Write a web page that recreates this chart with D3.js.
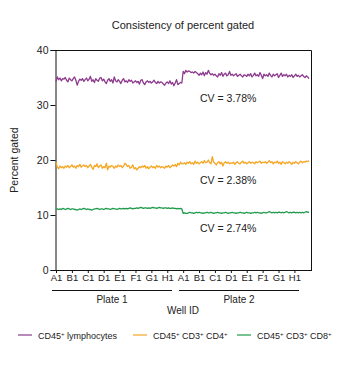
<!DOCTYPE html>
<html>
<head>
<meta charset="utf-8">
<script src="https://cdn.jsdelivr.net/npm/d3@7"></script>
<style>
  body { margin: 0; background: #fff; }
  text { font-family: "Liberation Sans", Arial, Helvetica, sans-serif; fill: #222; }
</style>
</head>
<body>
<svg id="chart" width="345" height="370"></svg>
<script>
// wells per plate: A1..H12, ticks at each row start
const rows = ["A1", "B1", "C1", "D1", "E1", "F1", "G1", "H1"];
const plates = ["Plate 1", "Plate 2"];
const yTicks = [0, 10, 20, 30, 40];

const lymphoP1 = [
  34.3, 35.1, 34.6, 34.9, 34.4, 34.8, 34.7, 35.0, 34.5, 34.2,
  34.9, 34.6, 34.4, 34.8, 35.1, 34.5, 33.6, 34.3, 34.7, 34.5,
  34.8, 34.3, 34.6, 34.9, 34.4, 34.7, 35.2, 34.3, 34.6, 34.1,
  34.8, 34.5, 34.3, 34.9, 35.0, 34.4, 34.7, 34.2, 33.9, 34.5,
  34.8, 34.3, 34.6, 34.0, 35.1, 34.4, 34.2, 34.6, 34.3, 33.9,
  34.5, 34.8, 34.2, 34.4, 34.1, 34.6, 34.3, 34.5, 34.0, 34.2,
  34.4, 34.1, 34.3, 33.8, 34.5, 34.6, 34.0, 33.7, 34.2, 34.4,
  34.1, 34.3, 34.0, 34.2, 34.5, 34.1, 33.9, 34.3, 34.0, 34.2,
  34.1, 33.8, 33.6, 34.0, 34.2, 33.9, 34.4, 33.8, 34.1, 33.5,
  34.0, 34.6, 33.7, 33.9, 34.1, 34.0
];
const lymphoP2 = [
  36.1, 35.7, 36.3, 36.0, 36.2, 36.1, 35.9, 36.0, 35.8, 36.1,
  35.9, 35.7, 35.4, 35.8, 35.5, 36.0, 35.3, 35.9, 35.6, 36.3,
  35.8, 35.5, 35.7, 35.4, 35.6, 35.3, 35.1, 35.7, 35.4, 35.9,
  35.2, 35.6, 35.8, 35.3, 35.5, 36.1, 35.4, 35.6, 35.3, 35.5,
  35.7, 35.2, 35.4, 35.6, 35.3, 35.1, 35.5, 35.4, 35.2, 35.6,
  35.3, 35.7, 35.1, 35.4, 35.8, 35.3, 35.5, 35.2, 35.9, 35.4,
  34.8, 35.6, 35.3, 35.5, 35.2, 35.8, 35.4, 35.1, 35.6, 35.3,
  35.5, 35.7, 35.0, 35.4, 35.8, 35.2, 35.5, 35.3, 35.6, 35.1,
  35.4, 35.2, 35.5, 35.0, 35.3, 35.6, 35.2, 35.4, 35.1, 35.3,
  35.5, 35.2, 35.0, 35.3, 35.1, 34.8
];
const cd4P1 = [
  19.6, 18.7, 18.4, 18.9, 18.6, 18.8, 18.5, 18.9, 18.7, 19.0,
  18.6, 18.8, 19.1, 18.7, 18.9, 18.5, 19.0, 18.8, 19.2, 18.7,
  18.9, 19.1, 18.8, 19.0, 18.6, 18.9, 19.2, 18.7, 18.3, 19.0,
  18.8, 19.3, 18.6, 18.9, 19.1, 18.5, 18.8, 18.6, 19.4, 18.2,
  18.9, 18.7, 19.0, 18.8, 18.5, 18.9, 18.7, 19.1, 18.8, 19.0,
  18.6, 18.9, 19.4, 19.2, 18.8, 19.0, 18.5, 18.7, 19.1, 18.4,
  18.6, 18.2, 18.5, 18.8, 18.6, 18.9, 18.7, 19.0, 18.5, 18.8,
  18.4, 18.7, 18.9, 18.6, 18.8, 18.5, 19.0, 18.7, 18.9, 18.6,
  18.8, 18.7, 18.5, 18.9, 18.7, 19.0, 18.6, 18.8, 19.1, 18.9,
  19.2, 18.8, 19.4, 19.1, 19.6, 19.3
];
const cd4P2 = [
  19.3, 19.5, 19.2, 19.6, 19.4, 19.7, 19.3, 19.5, 19.2, 19.8,
  19.4, 19.6, 19.3, 19.5, 19.7, 19.4, 19.9, 19.5, 19.6, 20.0,
  19.5, 19.3, 20.6, 19.6, 19.4, 19.1, 19.5, 19.7, 19.3, 19.6,
  18.9, 19.5, 19.7, 19.4, 19.6, 19.3, 19.5, 19.4, 19.6, 19.2,
  19.5, 19.7, 19.4, 19.3, 19.6, 19.8, 19.4, 19.6, 19.3, 19.5,
  19.7, 19.4, 19.6, 19.5, 19.3, 19.7, 19.5, 19.6, 19.8, 19.4,
  19.6, 19.5, 19.7, 19.4, 19.6, 19.9, 19.5, 19.7, 19.3, 19.6,
  19.5, 19.8, 19.4, 19.6, 19.2, 19.7, 19.5, 19.3, 19.6, 19.4,
  19.7, 19.5, 19.2, 19.6, 19.4, 19.7, 19.5, 19.3, 19.6, 19.8,
  19.5, 19.7, 19.6, 19.8, 19.7, 19.9
];
const cd8P1 = [
  11.0, 11.1, 11.0, 11.1, 11.0, 11.2, 11.1, 11.0, 11.1, 11.2,
  11.1, 11.0, 11.1, 11.1, 11.0, 11.0, 10.9, 11.0, 11.1, 11.0,
  11.1, 11.2, 11.1, 11.0, 11.1, 11.0, 11.0, 10.9, 11.0, 11.1,
  11.1, 11.2, 11.1, 11.0, 11.1, 11.1, 11.0, 11.1, 11.2, 11.1,
  11.1, 11.0, 11.1, 11.2, 11.1, 11.1, 11.0, 11.1, 11.2, 11.1,
  11.1, 11.2, 11.1, 11.2, 11.1, 11.2, 11.3, 11.2, 11.1, 11.2,
  11.2, 11.3, 11.2, 11.3, 11.4, 11.3, 11.2, 11.3, 11.3, 11.2,
  11.3, 11.2, 11.3, 11.4, 11.3, 11.3, 11.2, 11.3, 11.4, 11.3,
  11.3, 11.2, 11.3, 11.3, 11.2, 11.3, 11.2, 11.2, 11.3, 11.2,
  11.2, 11.1, 11.2, 11.1, 11.2, 11.1
];
const cd8P2 = [
  10.3, 10.4, 10.3, 10.3, 10.4, 10.5, 10.4, 10.4, 10.3, 10.4,
  10.5, 10.4, 10.5, 10.4, 10.4, 10.3, 10.4, 10.4, 10.5, 10.4,
  10.4, 10.5, 10.4, 10.3, 10.4, 10.4, 10.5, 10.4, 10.4, 10.3,
  10.4, 10.4, 10.5, 10.4, 10.3, 10.4, 10.4, 10.5, 10.4, 10.4,
  10.3, 10.4, 10.4, 10.5, 10.4, 10.4, 10.3, 10.4, 10.5, 10.4,
  10.4, 10.3, 10.4, 10.4, 10.5, 10.4, 10.5, 10.4, 10.4, 10.3,
  10.4, 10.5, 10.4, 10.4, 10.5, 10.6, 10.5, 10.4, 10.5, 10.4,
  10.5, 10.4, 10.5, 10.5, 10.4, 10.5, 10.4, 10.5, 10.6, 10.5,
  10.4, 10.5, 10.4, 10.5, 10.5, 10.4, 10.5, 10.4, 10.5, 10.4,
  10.5, 10.4, 10.5, 10.6, 10.5, 10.5
];

const series = [
  { name: ["CD45", "+", " lymphocytes"], colour: "#8d3b8e", values: lymphoP1.concat(lymphoP2), cv: "CV = 3.78%" },
  { name: ["CD45", "+", " CD3", "+", " CD4", "+"], colour: "#f5a623", values: cd4P1.concat(cd4P2), cv: "CV = 2.38%" },
  { name: ["CD45", "+", " CD3", "+", " CD8", "+"], colour: "#1f9a4b", values: cd8P1.concat(cd8P2), cv: "CV = 2.74%" }
];
const cvY = [30.6, 15.6, 7.0];

const perPlate = lymphoP1.length;
const n = perPlate * plates.length;
const plotL = 55, plotR = 311, plotT = 50, plotB = 270;

const svg = d3.select("#chart");
const x = d3.scaleLinear().domain([0, n - 1]).range([56, 309]);
const y = d3.scaleLinear().domain([0, 40]).range([plotB, plotT]);

svg.append("text")
  .attr("x", 183).attr("y", 29)
  .attr("text-anchor", "middle")
  .style("font-size", "11px")
  .text("Consistency of percent gated");

// frame top + right
svg.append("path")
  .attr("d", `M${plotL},${plotT + 0.5}H${plotR + 0.5}V${plotB}`)
  .attr("fill", "none").attr("stroke", "#111").attr("stroke-width", 1);

const yAxis = svg.append("g")
  .attr("transform", `translate(${plotL + 0.5},0)`)
  .call(d3.axisLeft(y).tickValues(yTicks).tickSize(5).tickPadding(2));
yAxis.selectAll("text").style("font-size", "10.5px").attr("fill", "#222");

const xTickIdx = [];
plates.forEach((p, pi) => rows.forEach((r, ri) => xTickIdx.push(pi * perPlate + ri * 12)));
const xAxis = svg.append("g")
  .attr("transform", `translate(0,${plotB})`)
  .call(d3.axisBottom(x).tickValues(xTickIdx).tickSize(3).tickPadding(1)
    .tickFormat(d => rows[(d % perPlate) / 12]));
xAxis.selectAll("text").style("font-size", "9.5px").attr("fill", "#222");
xAxis.select(".domain").attr("d", `M${plotL},0.5H${plotR + 1}`);
[xAxis, yAxis].forEach(a => a.selectAll("line, path").attr("stroke", "#111"));

// plate brackets
const plateSpan = [[52, 172], [179, 299]];
plates.forEach((p, i) => {
  svg.append("line")
    .attr("x1", plateSpan[i][0]).attr("x2", plateSpan[i][1])
    .attr("y1", 290.5).attr("y2", 290.5)
    .attr("stroke", "#111");
  svg.append("text")
    .attr("x", (plateSpan[i][0] + plateSpan[i][1]) / 2).attr("y", 303)
    .attr("text-anchor", "middle").style("font-size", "10px")
    .text(p);
});
svg.append("text")
  .attr("x", 183).attr("y", 314)
  .attr("text-anchor", "middle").style("font-size", "10px")
  .text("Well ID");

svg.append("text")
  .attr("transform", "translate(18,160) rotate(-90)")
  .attr("text-anchor", "middle").style("font-size", "10.5px")
  .text("Percent gated");

const line = d3.line().x((d, i) => x(i)).y(d => y(d));
series.forEach((s, i) => {
  svg.append("path")
    .datum(s.values)
    .attr("d", line)
    .attr("fill", "none")
    .attr("stroke", s.colour)
    .attr("stroke-width", 1.3)
    .attr("stroke-linejoin", "round");
  svg.append("text")
    .attr("x", 200).attr("y", y(cvY[i]))
    .style("font-size", "10.5px")
    .text(s.cv);
});

// legend
const legendX = [18, 133, 237];
series.forEach((s, i) => {
  const g = svg.append("g").attr("transform", `translate(${legendX[i]},335)`);
  g.append("line").attr("x1", 0).attr("x2", 14).attr("stroke", s.colour).attr("stroke-width", 1.2);
  const t = g.append("text").attr("x", 20).attr("y", 3.5).style("font-size", "9px");
  s.name.forEach((part, k) => {
    const sp = t.append("tspan").text(part);
    if (part === "+") sp.attr("dy", -3).style("font-size", "6px");
    else if (k > 0) sp.attr("dy", 3);
  });
});
</script>
</body>
</html>
